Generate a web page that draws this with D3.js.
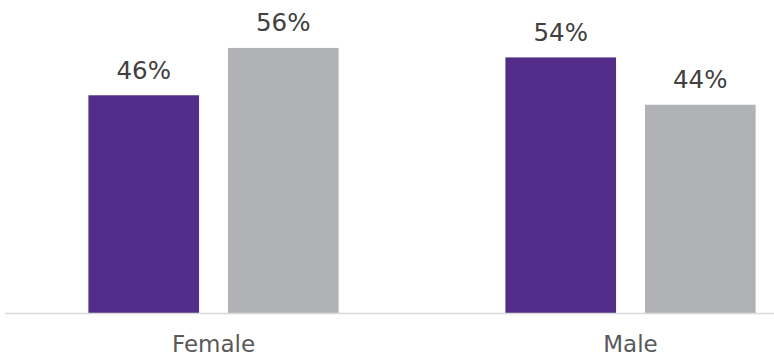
<!DOCTYPE html>
<html>
<head>
<meta charset="utf-8">
<script src="https://cdn.jsdelivr.net/npm/d3@7/dist/d3.min.js"></script>
<style>
  html, body { margin: 0; padding: 0; background: #fff; }
  svg { display: block; }
</style>
</head>
<body>
<div id="chart"></div>
<script>
  // categorias e séries
  const categories = ['Female', 'Male'];
  const seriesNames = ['purple', 'gray'];
  const purpleValues = [46, 54];
  const grayValues = [56, 44];
  const colors = { purple: '#532C8A', gray: '#B1B2B5' };

  const W = 774, H = 356;
  const baseY = 313;

  const svg = d3.select('#chart').append('svg')
    .attr('width', W).attr('height', H);

  /* escalas */
  const x0 = d3.scaleBand().domain(categories)
    .range([5, 839]).paddingInner(0.4).paddingOuter(0.2);
  const x1 = d3.scaleBand().domain(seriesNames)
    .range([0, x0.bandwidth()]).paddingInner(0.207).paddingOuter(0);
  const y = d3.scaleLinear().domain([0, 60]).range([baseY, baseY - 284]);

  const rows = [];
  categories.forEach(function (c, i) {
    rows.push({ cat: c, s: 'purple', v: purpleValues[i] });
    rows.push({ cat: c, s: 'gray', v: grayValues[i] });
  });

  /* barras */
  svg.append('g').selectAll('rect').data(rows).join('rect')
    .attr('x', d => x0(d.cat) + x1(d.s))
    .attr('y', d => y(d.v))
    .attr('width', x1.bandwidth())
    .attr('height', d => y(0) - y(d.v))
    .attr('fill', d => colors[d.s]);

  /* rótulos de valor */
  svg.append('g').selectAll('text').data(rows).join('text')
    .attr('x', d => x0(d.cat) + x1(d.s) + x1.bandwidth() / 2)
    .attr('y', d => y(d.v) - 16.5)
    .attr('text-anchor', 'middle')
    .attr('font-family', 'DejaVu Sans, Verdana, sans-serif')
    .attr('font-size', 24.5)
    .attr('fill', '#404040')
    .text(d => d.v + '%');

  /* eixo x */
  const xAxis = svg.append('g')
    .attr('transform', 'translate(0,' + baseY + ')')
    .call(d3.axisBottom(x0).tickSize(0).tickPadding(0));
  xAxis.select('.domain').remove();
  xAxis.append('line')
    .attr('x1', 5).attr('x2', W).attr('y1', 0.5).attr('y2', 0.5)
    .attr('stroke', '#D9D9D9').attr('stroke-width', 1.5);
  xAxis.selectAll('.tick text')
    .attr('dy', null)
    .attr('y', 38.5)
    .attr('font-family', 'DejaVu Sans, Verdana, sans-serif')
    .attr('font-size', 23)
    .attr('fill', '#595959');
</script>
</body>
</html>
